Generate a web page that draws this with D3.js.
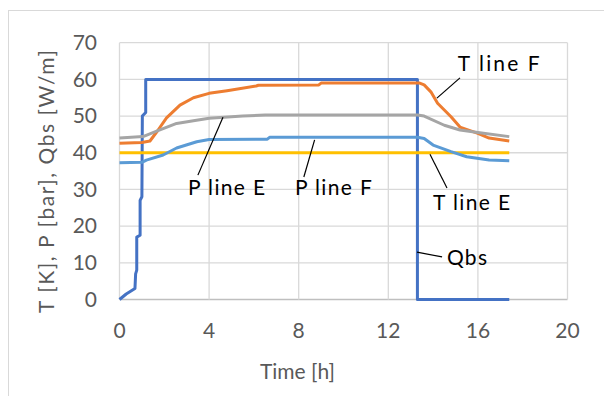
<!DOCTYPE html>
<html>
<head>
<meta charset="utf-8">
<script src="https://cdn.jsdelivr.net/npm/d3@7"></script>
<style>
  body { margin: 0; background: #fff; }
  text { font-family: Lato, "Open Sans", sans-serif; }
</style>
</head>
<body>
<script>
// series values: [time h, value]
var qbs = [[0, 0], [0.3, 1.5], [0.69, 3], [0.72, 7], [0.77, 8], [0.77, 17], [0.92, 17.5],
  [0.92, 27], [1.0, 28], [1.02, 50], [1.17, 51], [1.17, 60], [13.3, 60], [13.3, 0], [17.4, 0]];
var tLineF = [[0, 42.6], [1.0, 42.8], [1.36, 43.2], [1.7, 46], [2.1, 49.5], [2.7, 53], [3.3, 55],
  [4.0, 56.2], [4.8, 56.9], [6.1, 58.2], [6.2, 58.4], [8.9, 58.5], [9.0, 59], [13.4, 59],
  [13.6, 58.5], [13.9, 56.6], [14.2, 53.5], [14.8, 49.8], [15.2, 47], [16.0, 45.3], [16.5, 44], [17.4, 43.2]];
var pLineE = [[0, 44], [1.05, 44.4], [1.66, 45.9], [2.55, 48], [3.3, 48.7], [4.0, 49.4], [5.5, 50],
  [6.5, 50.3], [13.3, 50.3], [13.6, 50], [14.5, 47.5], [15.2, 46.2], [16.0, 45.5], [17.4, 44.4]];
var tLineE = [[0, 40], [17.4, 40]];
var pLineF = [[0, 37.3], [1.0, 37.4], [1.2, 38], [1.95, 39.4], [2.55, 41.3], [3.45, 43], [4.0, 43.6],
  [6.6, 43.7], [6.7, 44.2], [13.3, 44.2], [13.6, 43.9], [14.0, 42.1], [14.8, 40.3], [15.5, 38.9],
  [16.5, 38], [17.4, 37.8]];

var xTicks = [0, 4, 8, 12, 16, 20];
var yTicks = [0, 10, 20, 30, 40, 50, 60, 70];

// leader labels in data units: text start, text centre, line from, line to
var labels = [
  { text: "T line F", at: [15.1, 64.4], from: [15.2, 60.4], to: [14.17, 54.9], len: 82 },
  { text: "P line E", at: [3.06, 30.4], from: [4.62, 49.7], to: [3.5, 33.9], len: 77 },
  { text: "P line F", at: [7.83, 30.4], from: [8.71, 43.5], to: [8.23, 33.4], len: 77 },
  { text: "T line E", at: [14.0, 26.3], from: [13.86, 39.6], to: [14.62, 30.4], len: 77 },
  { text: "Qbs", at: [14.62, 11.3], from: [13.28, 12.9], to: [14.4, 11.6], len: 40 }
];

var series = [
  { values: qbs, color: "#4472C4" },
  { values: tLineF, color: "#ED7D31" },
  { values: pLineE, color: "#A5A5A5" },
  { values: tLineE, color: "#FFC000" },
  { values: pLineF, color: "#5B9BD5" }
];

var width = 604, height = 396;
var svg = d3.select("body").append("svg")
  .attr("width", width)
  .attr("height", height);

// chart border
svg.append("rect")
  .attr("x", 8.5).attr("y", 10.5)
  .attr("width", 640).attr("height", 420)
  .attr("fill", "none")
  .attr("stroke", "#d9d9d9");

var x = d3.scaleLinear().domain([0, 20]).range([119.5, 567.5]);
var y = d3.scaleLinear().domain([0, 70]).range([299.5, 42.7]);

// grid
svg.append("g")
  .selectAll("line.h")
  .data(yTicks)
  .enter().append("line")
  .attr("x1", x(0)).attr("x2", x(20))
  .attr("y1", d => y(d)).attr("y2", d => y(d))
  .attr("stroke", d => d === 0 ? "#bfbfbf" : "#d9d9d9")
  .attr("stroke-width", 1.3);

svg.append("g")
  .selectAll("line.v")
  .data(xTicks)
  .enter().append("line")
  .attr("x1", d => x(d)).attr("x2", d => x(d))
  .attr("y1", y(0)).attr("y2", y(70))
  .attr("stroke", "#d9d9d9")
  .attr("stroke-width", 1.3);

// tick labels
svg.append("g")
  .selectAll("text")
  .data(yTicks)
  .enter().append("text")
  .attr("x", 97)
  .attr("y", d => y(d))
  .attr("dy", "0.35em")
  .attr("text-anchor", "end")
  .attr("fill", "#595959")
  .style("font-size", "21px")
  .text(d => d);

svg.append("g")
  .selectAll("text")
  .data(xTicks)
  .enter().append("text")
  .attr("x", d => x(d))
  .attr("y", 331)
  .attr("dy", "0.35em")
  .attr("text-anchor", "middle")
  .attr("fill", "#595959")
  .style("font-size", "21px")
  .text(d => d);

// axis titles
svg.append("text")
  .attr("x", 260).attr("y", 372)
  .attr("dy", "0.35em")
  .attr("textLength", 75)
  .attr("fill", "#595959")
  .style("font-size", "21px")
  .text("Time [h]");

svg.append("text")
  .attr("transform", "translate(47,313) rotate(-90)")
  .attr("dy", "0.35em")
  .attr("textLength", 263)
  .attr("fill", "#595959")
  .style("font-size", "21px")
  .text("T [K], P [bar], Qbs [W/m]");

// lines
var line = d3.line()
  .x(d => x(d[0]))
  .y(d => y(d[1]));

svg.append("g")
  .selectAll("path")
  .data(series)
  .enter().append("path")
  .attr("d", d => line(d.values))
  .attr("fill", "none")
  .attr("stroke", d => d.color)
  .attr("stroke-width", 3)
  .attr("stroke-linejoin", "round");

// leader labels
var lab = svg.append("g").selectAll("g")
  .data(labels)
  .enter().append("g");

lab.append("line")
  .attr("x1", d => x(d.from[0])).attr("y1", d => y(d.from[1]))
  .attr("x2", d => x(d.to[0])).attr("y2", d => y(d.to[1]))
  .attr("stroke", "#000")
  .attr("stroke-width", 1.2);

lab.append("text")
  .attr("x", d => x(d.at[0]))
  .attr("y", d => y(d.at[1]))
  .attr("dy", "0.35em")
  .attr("textLength", d => d.len)
  .attr("fill", "#000")
  .style("font-size", "21px")
  .text(d => d.text);
</script>
</body>
</html>
